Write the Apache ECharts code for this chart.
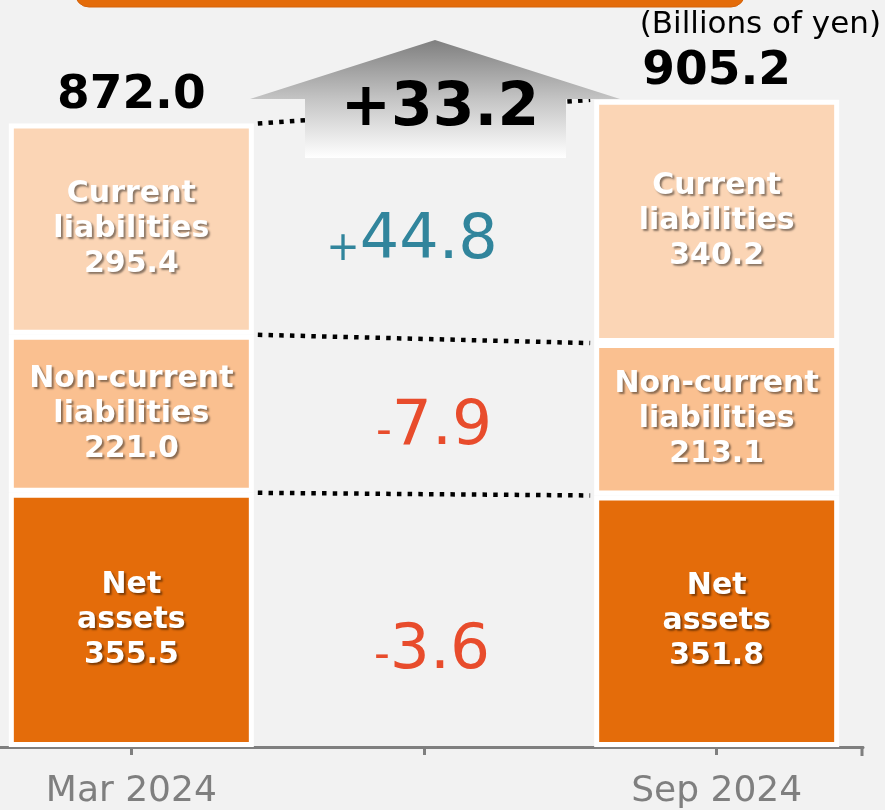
<!DOCTYPE html>
<html>
<head>
<meta charset="utf-8">
<script src="https://cdn.jsdelivr.net/npm/echarts@6/dist/echarts.min.js"></script>
<style>
  html, body { margin: 0; padding: 0; background: #f2f2f2; }
  #chart { width: 885px; height: 810px; }
</style>
</head>
<body>
<div id="chart"></div>
<script>
// data
const categories = ['Mar 2024', '', 'Sep 2024']
const segmentNames = ['Net\nassets', 'Non-current\nliabilities', 'Current\nliabilities']
const netAssets = [355.5, null, 351.8]
const nonCurrent = [221.0, null, 213.1]
const current = [295.4, null, 340.2]
const totals = [872.0, null, 905.2]
const changes = [-3.6, -7.9, 44.8] // net, non-current, current
const totalChange = 33.2

const FONT = '"DejaVu Sans", Verdana, sans-serif'
const BAR_W = 245
const segColors = ['#e46c0a', '#fac090', '#fbd5b5']
const segSeries = [netAssets, nonCurrent, current]

// cumulative tops of each segment, for both bars
const tops = [0, 2].map(c => {
  let acc = 0
  return segSeries.map(s => (acc += s[c]))
})
const bottoms = [0, 2].map((c, k) => tops[k].map((t, i) => t - segSeries[i][c]))

// mid value of each band between the two bars
const changeMid = segSeries.map((s, i) => {
  const l = (tops[0][i] + bottoms[0][i]) / 2
  const r = (tops[1][i] + bottoms[1][i]) / 2
  return (l + r) / 2
})

function fmtSigned(v) {
  return (v > 0 ? '+' : '-') + Math.abs(v).toFixed(1)
}

const chart = echarts.init(document.getElementById('chart'))

const barSeries = segSeries.map((s, i) => ({
  name: segmentNames[i],
  type: 'bar',
  stack: 'total',
  barWidth: BAR_W,
  z: 3,
  data: s.map(v => (v == null ? '-' : v)),
  itemStyle: {
    color: segColors[i],
    borderColor: '#ffffff',
    borderWidth: 5,
  },
  label: {
    show: true,
    position: 'inside',
    formatter: p => segmentNames[i] + '\n' + p.value.toFixed(1),
    color: '#ffffff',
    fontFamily: FONT,
    fontWeight: 'bold',
    fontSize: 30,
    lineHeight: 35,
    textShadowColor: 'rgba(0,0,0,0.45)',
    textShadowBlur: 2,
    textShadowOffsetX: 2,
    textShadowOffsetY: 2,
  },
}))

chart.setOption({
  backgroundColor: '#f2f2f2',
  animation: false,
  grid: { left: -15, right: 22, top: 32, bottom: 63, outerBoundsMode: 'none', containLabel: false },
  xAxis: {
    type: 'category',
    data: categories,
    axisLine: { lineStyle: { color: '#7f7f7f', width: 3 } },
    axisTick: {
      show: true,
      interval: 0,
      alignWithLabel: true,
      length: 8,
      lineStyle: { color: '#7f7f7f', width: 3 },
    },
    axisLabel: { color: '#7f7f7f', fontFamily: FONT, fontSize: 36, margin: 27, interval: 0 },
  },
  yAxis: {
    type: 'value',
    min: 0,
    max: 1000,
    show: false,
  },
  series: [
    // dotted connectors between matching segment tops
    {
      type: 'custom',
      z: 2,
      data: tops[0].map((t, i) => [1, t, tops[1][i]]),
      encode: { x: 0, y: [1, 2] },
      renderItem: (params, api) => {
        const a = api.coord([0, api.value(1)])
        const b = api.coord([2, api.value(2)])
        const off = BAR_W / 2 + 4
        return {
          type: 'line',
          shape: { x1: a[0] + off, y1: a[1], x2: b[0] - off, y2: b[1] },
          style: { stroke: '#000000', lineWidth: 4.5, lineDash: [4.5, 6.2], lineCap: 'butt' },
        }
      },
    },
    ...barSeries,
    // totals above bars
    {
      type: 'scatter',
      symbolSize: 1,
      itemStyle: { color: 'rgba(0,0,0,0)', opacity: 1 },
      z: 5,
      data: totals.map(v => (v == null ? '-' : v)),
      label: {
        show: true,
        position: 'top',
        distance: 4,
        formatter: p => p.value.toFixed(1),
        color: '#000000',
        fontFamily: FONT,
        fontWeight: 'bold',
        fontSize: 47,
      },
    },
    // changes in the middle column
    {
      type: 'scatter',
      symbolSize: 1,
      itemStyle: { color: 'rgba(0,0,0,0)', opacity: 1 },
      z: 5,
      data: changes.map((c, i) => ({
        value: [1, changeMid[i]],
        label: { offset: i === 0 ? [8, 31] : i === 2 ? [-12, 17] : [10, 11] },
      })),
      label: {
        show: true,
        position: 'inside',
        formatter: p => {
          const c = changes[p.dataIndex]
          const tag = c > 0 ? 'p' : 'm'
          return '{' + tag + 's|' + (c > 0 ? '+' : '-') + '}{' + tag + '|' + Math.abs(c).toFixed(1) + '}'
        },
        rich: {
          p: { color: '#31859c', fontFamily: FONT, fontSize: 62 },
          ps: { color: '#31859c', fontFamily: FONT, fontSize: 40, padding: [14, 0, 0, 0] },
          m: { color: '#e84c2c', fontFamily: FONT, fontSize: 63 },
          ms: { color: '#e84c2c', fontFamily: FONT, fontSize: 44, padding: [10, 0, 0, 0] },
        },
      },
    },
  ],
  graphic: [
    {
      type: 'rect',
      z: 100,
      shape: { x: 75, y: -30, width: 670, height: 37, r: 14 },
      style: { fill: '#e46c0a', stroke: '#d4620a', lineWidth: 1 },
    },
    {
      type: 'text',
      z: 100,
      right: 4,
      top: 9,
      style: { text: '(Billions of yen)', fill: '#000000', font: '31px ' + FONT },
    },
    {
      type: 'polygon',
      z: 100,
      shape: {
        points: [[250, 99], [435, 40], [620, 99], [566, 99], [566, 158], [305, 158], [305, 99]],
      },
      style: {
        fill: new echarts.graphic.LinearGradient(0, 0, 0, 1, [
          { offset: 0, color: '#7f7f7f' },
          { offset: 0.5, color: '#c4c4c4' },
          { offset: 1, color: '#ffffff' },
        ]),
      },
    },
    {
      type: 'text',
      z: 101,
      x: 440,
      y: 109,
      style: {
        text: fmtSigned(totalChange),
        fill: '#000000',
        font: 'bold 60px ' + FONT,
        align: 'center',
        verticalAlign: 'middle',
      },
    },
    {
      type: 'line',
      z: 100,
      shape: { x1: 862, y1: 746, x2: 862, y2: 756 },
      style: { stroke: '#7f7f7f', lineWidth: 3 },
    },
  ],
})
</script>
</body>
</html>
